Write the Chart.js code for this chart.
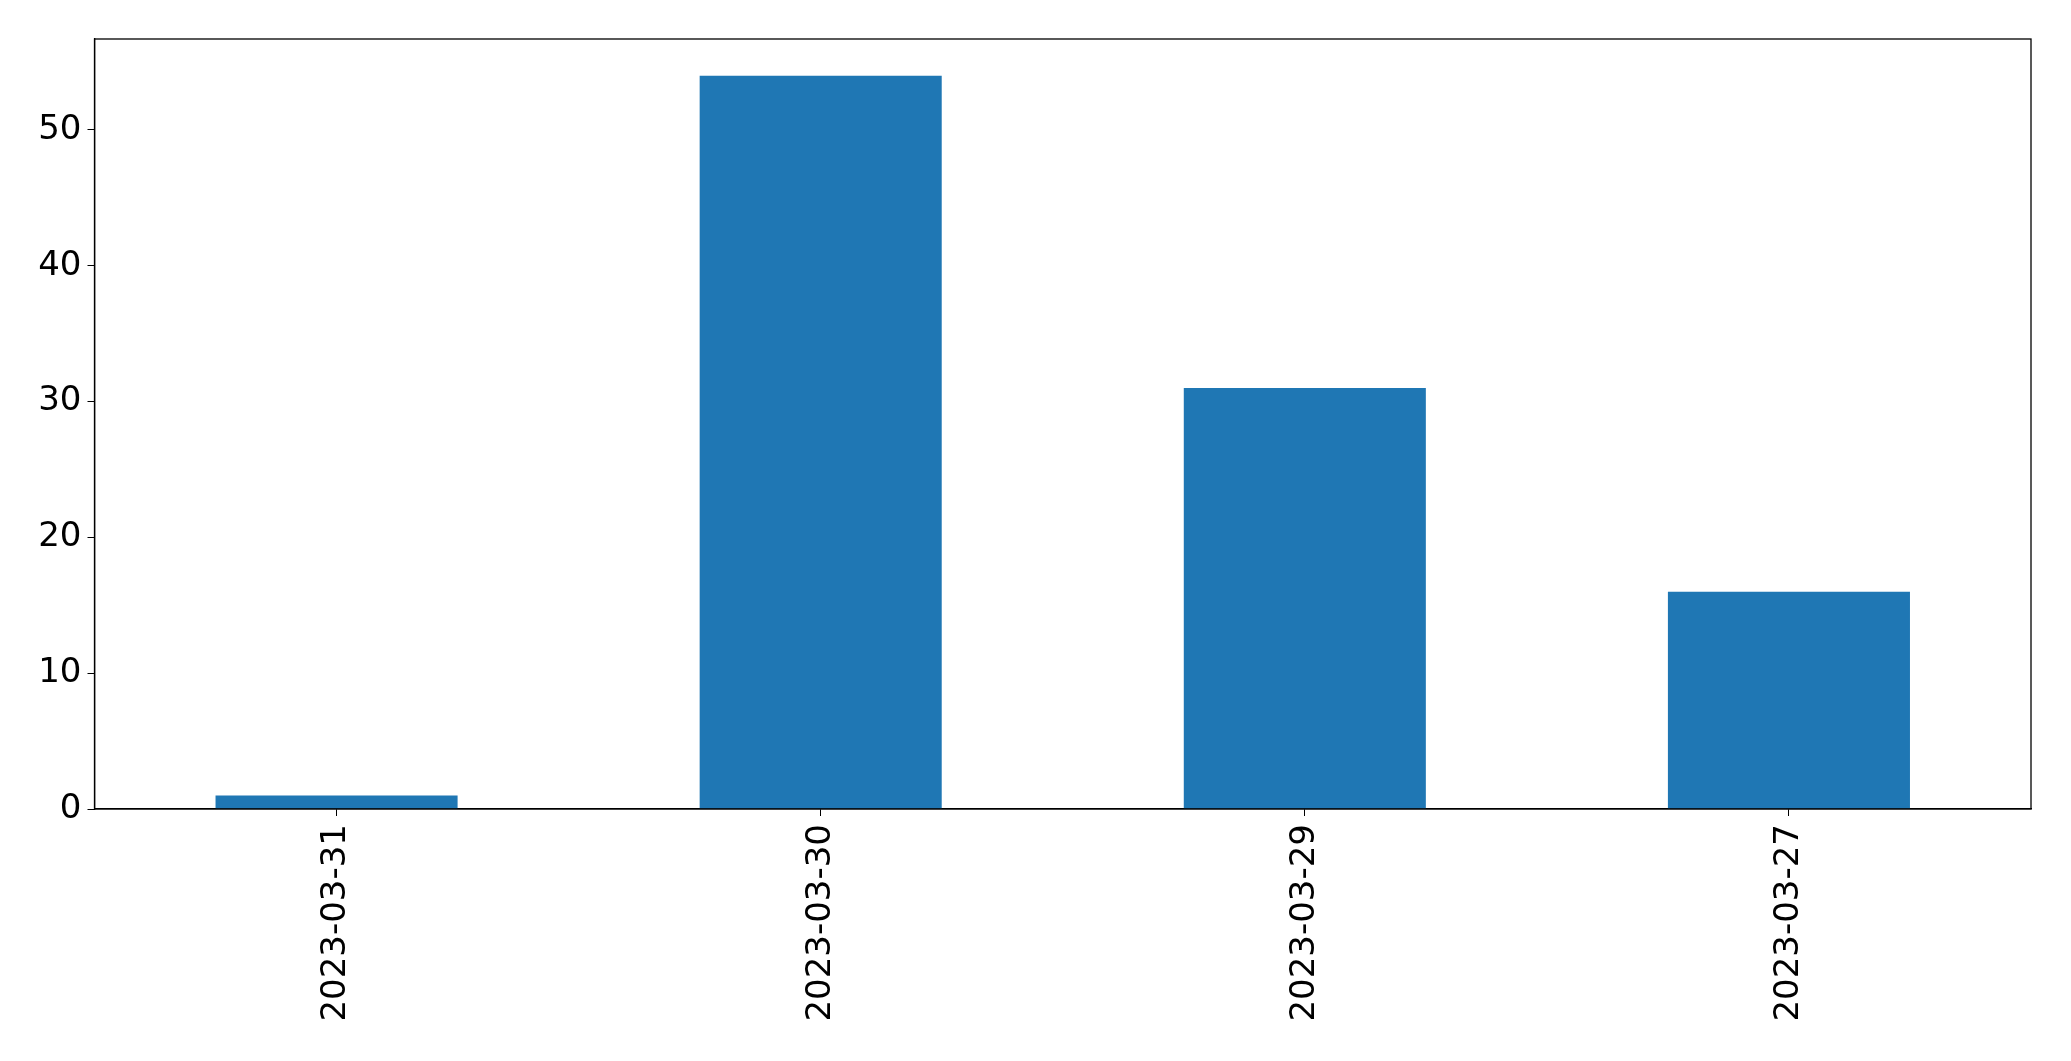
<!DOCTYPE html>
<html>
<head>
<meta charset="utf-8">
<script src="https://cdn.jsdelivr.net/npm/chart.js@4/dist/chart.umd.min.js"></script>
<style>
html,body{margin:0;padding:0;background:#fff;}
#wrap{width:2071px;height:1061px;position:relative;}
</style>
</head>
<body>
<div id="wrap"><canvas id="c" width="2071" height="1061"></canvas></div>
<script>
const categories = ["2023-03-31", "2023-03-30", "2023-03-29", "2023-03-27"];
const counts = [1, 54, 31, 16];
const yTicks = [0, 10, 20, 30, 40, 50];
const yMax = 56.7;

const frame = {
  id: 'frame',
  afterDraw(chart) {
    const a = chart.chartArea, ctx = chart.ctx;
    ctx.save();
    ctx.strokeStyle = '#000';
    ctx.lineWidth = 1.3;
    ctx.strokeRect(a.left, a.top, a.right - a.left, a.bottom - a.top);
    ctx.restore();
  }
};

new Chart(document.getElementById('c'), {
  type: 'bar',
  data: {
    labels: categories,
    datasets: [{
      data: counts,
      backgroundColor: '#1f77b4',
      borderWidth: 0,
      barPercentage: 0.5,
      categoryPercentage: 1.0
    }]
  },
  options: {
    responsive: false,
    animation: false,
    devicePixelRatio: 1,
    layout: { padding: { left: 0, top: 39, right: 40, bottom: 0 } },
    plugins: { legend: { display: false }, tooltip: { enabled: false } },
    scales: {
      x: {
        offset: true,
        grid: { display: true, drawOnChartArea: false, drawTicks: true, tickLength: 7, color: '#000', offset: false },
        border: { display: true, color: '#000', width: 1.3 },
        ticks: {
          minRotation: 90, maxRotation: 90, padding: 8,
          color: '#000',
          font: { family: 'DejaVu Sans', size: 34 }
        },
        afterFit(s) { s.height = 252; }
      },
      y: {
        min: 0,
        max: yMax,
        grid: { display: true, drawOnChartArea: false, drawTicks: true, tickLength: 7, color: '#000' },
        border: { display: true, color: '#000', width: 1.3 },
        afterBuildTicks(s) { s.ticks = yTicks.map(v => ({ value: v })); },
        ticks: {
          padding: 6,
          color: '#000',
          font: { family: 'DejaVu Sans', size: 34 }
        },
        afterFit(s) { s.width = 94.5; }
      }
    }
  },
  plugins: [frame]
});
</script>
</body>
</html>
